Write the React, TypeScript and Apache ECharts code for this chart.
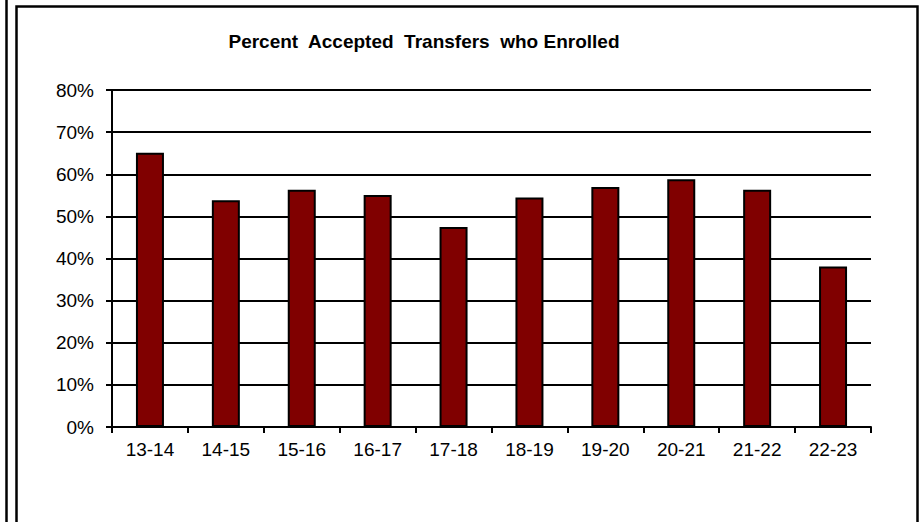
import React, { useEffect, useRef } from "react";
import * as echarts from "echarts";

const categories = ["13-14", "14-15", "15-16", "16-17", "17-18", "18-19", "19-20", "20-21", "21-22", "22-23"];
const enrolledPct = [65.1, 53.8, 56.3, 55.1, 47.5, 54.5, 57.0, 58.8, 56.3, 38.1];
const titleText = "Percent  Accepted  Transfers  who Enrolled";
const FONT = '"Liberation Sans", Arial, Helvetica, sans-serif';

export default function App() {
  const ref = useRef<HTMLDivElement>(null);
  useEffect(() => {
    if (!ref.current) return;
    const chart = echarts.init(ref.current, undefined, { renderer: "svg" });
    chart.setOption({
      animation: false,
      backgroundColor: "#ffffff",
      grid: { left: 112, right: 52, top: 90, bottom: 95, containLabel: false },
      xAxis: {
        type: "category",
        data: categories,
        axisLine: { show: true, lineStyle: { color: "#000", width: 2 } },
        axisTick: { show: true, alignWithLabel: false, length: 6, lineStyle: { color: "#000", width: 2 } },
        axisLabel: { color: "#000", fontFamily: FONT, fontSize: 19, margin: 13, interval: 0 },
        splitLine: { show: false },
      },
      yAxis: {
        type: "value",
        min: 0,
        max: 80,
        interval: 10,
        axisLine: { show: true, lineStyle: { color: "#000", width: 2 } },
        axisTick: { show: true, length: 6, lineStyle: { color: "#000", width: 2 } },
        axisLabel: { color: "#000", fontFamily: FONT, fontSize: 19, margin: 18, formatter: "{value}%" },
        splitLine: { show: true, lineStyle: { color: "#000", width: 2 } },
      },
      series: [
        {
          type: "bar",
          data: enrolledPct,
          barWidth: 28,
          itemStyle: { color: "#800000", borderColor: "#000", borderWidth: 2 },
        },
      ],
      graphic: [
        {
          type: "line",
          shape: { x1: 6.5, y1: 0, x2: 6.5, y2: 530 },
          style: { stroke: "#000", lineWidth: 2.5 },
          silent: true,
        },
        {
          type: "rect",
          shape: { x: 16.5, y: 6.5, width: 901, height: 600 },
          style: { fill: "none", stroke: "#000", lineWidth: 2.5 },
          silent: true,
        },
        {
          type: "text",
          x: 424,
          y: 41,
          style: {
            text: titleText,
            textAlign: "center",
            textVerticalAlign: "middle",
            fontFamily: FONT,
            fontSize: 19,
            fontWeight: "bold",
            fill: "#000",
          },
        },
      ],
    });
    return () => chart.dispose();
  }, []);
  return (
    <div
      ref={ref}
      style={{ position: "fixed", left: 0, top: 0, width: 923, height: 522, background: "#fff" }}
    />
  );
}
